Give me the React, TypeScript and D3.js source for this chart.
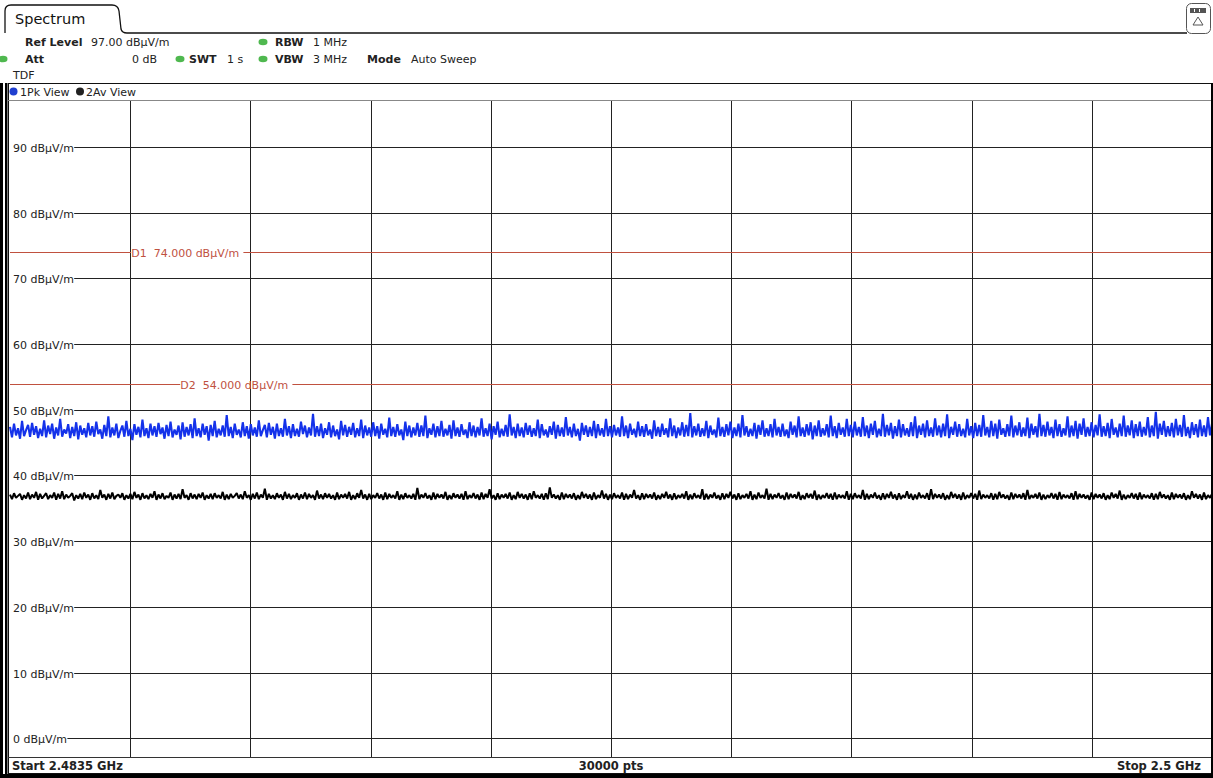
import React from 'react'
import * as d3 from 'd3'

// sweep settings
const startGHz = 2.4835
const stopGHz = 2.5
const refLevel = 97
const bottomLevel = -3
const sweepPoints = '30000 pts'
const divisions = 10
const levelTicks = [0, 10, 20, 30, 40, 50, 60, 70, 80, 90]
const limitNames = ['D1', 'D2']
const limitValues = [74, 54]

// peak detector trace (1Pk), dBµV/m, read across the sweep
const pkTrace = [
  47.4, 45.8, 47.9, 46.1, 47.2, 45.6, 48.3, 46.0, 46.9, 47.7, 45.9, 48.0, 46.2, 47.5, 45.7, 47.1, 46.0, 48.4, 45.8, 47.6,
  46.3, 47.9, 45.6, 47.3, 46.1, 48.6, 45.9, 47.0, 46.4, 47.8, 45.7, 47.4, 46.0, 48.1, 45.5, 47.6, 46.2, 47.2, 45.8, 48.0,
  46.1, 47.5, 45.9, 48.2, 46.3, 47.0, 45.6, 47.7, 46.0, 49.0, 45.8, 47.3, 46.1, 47.9, 45.7, 46.8, 47.6, 45.9, 48.3, 46.0,
  47.1, 45.4, 47.8, 46.2, 47.4, 45.8, 48.5, 46.0, 47.2, 45.7, 47.9, 46.1, 47.5, 45.9, 48.0, 46.3, 47.3, 45.6, 47.7, 46.0,
  48.2, 45.8, 47.0, 46.2, 47.6, 45.5, 48.1, 45.9, 47.4, 46.1, 47.8, 45.7, 48.7, 46.0, 47.2, 45.8, 47.9, 46.2, 47.5, 45.3,
  47.7, 46.0, 48.3, 45.8, 47.1, 46.1, 47.6, 45.9, 49.2, 46.0, 47.4, 45.7, 47.9, 46.2, 47.0, 45.8, 48.1, 46.0, 47.5, 45.6,
  47.8, 46.1, 47.3, 45.9, 48.4, 46.0, 46.9, 47.7, 45.8, 48.0, 46.2, 47.4, 45.6, 47.9, 46.0, 47.2, 45.9, 48.6, 46.1, 47.5,
  45.7, 47.8, 46.0, 47.1, 45.9, 48.2, 46.3, 47.6, 45.8, 47.3, 46.1, 49.4, 45.9, 47.5, 46.0, 47.9, 45.7, 47.2, 46.2, 48.1,
  45.8, 47.6, 46.0, 47.0, 45.5, 48.3, 46.1, 47.7, 45.9, 47.4, 46.2, 48.0, 45.8, 47.2, 46.0, 48.5, 45.7, 47.6, 46.1, 47.3,
  45.9, 48.1, 46.0, 47.5, 45.6, 47.9, 46.2, 47.1, 45.8, 48.8, 46.0, 47.4, 45.9, 47.8, 46.1, 47.0, 45.4, 48.2, 46.0, 47.6,
  45.8, 47.3, 46.1, 48.0, 45.9, 47.6, 46.0, 49.1, 45.7, 47.2, 46.2, 47.9, 45.8, 47.5, 46.0, 48.3, 45.9, 47.1, 46.1, 47.7,
  45.6, 48.4, 46.0, 47.3, 45.9, 47.8, 46.2, 47.0, 45.7, 48.1, 46.0, 47.6, 45.8, 47.4, 46.1, 48.7, 45.9, 47.2, 46.0, 47.9,
  45.5, 47.5, 46.2, 48.2, 45.8, 47.1, 46.0, 47.7, 45.9, 49.3, 46.1, 47.4, 45.7, 47.9, 46.0, 47.3, 45.8, 48.0, 46.2, 47.6,
  45.9, 47.2, 46.0, 48.5, 45.7, 47.8, 46.1, 47.0, 45.8, 47.5, 46.2, 48.2, 45.6, 47.7, 46.0, 47.3, 45.9, 48.9, 46.1, 47.4,
  45.8, 47.9, 46.0, 47.1, 45.3, 48.0, 46.2, 47.6, 45.9, 47.4, 46.0, 48.3, 45.7, 47.8, 46.1, 47.2, 45.9, 48.6, 46.0, 47.5,
  45.8, 47.7, 46.1, 47.3, 45.9, 49.0, 46.0, 47.6, 45.7, 47.9, 46.2, 47.1, 45.8, 48.2, 46.0, 47.5, 45.9, 47.8, 46.1, 47.0,
  45.6, 48.4, 46.0, 47.4, 45.9, 47.9, 46.2, 47.2, 45.8, 48.7, 46.0, 47.6, 45.7, 47.3, 46.1, 48.1, 45.9, 47.7, 46.0, 49.5,
  45.8, 47.5, 46.1, 47.9, 45.9, 47.2, 46.0, 48.3, 45.7, 47.6, 46.2, 47.0, 45.8, 48.8, 46.0, 47.4, 45.9, 47.8, 46.1, 48.2,
  45.7, 47.3, 46.0, 47.9, 45.8, 49.2, 46.1, 47.5, 45.9, 47.1, 46.0, 48.0, 45.6, 47.7, 46.2, 48.4, 45.9, 47.2, 46.0, 47.8,
  45.8, 48.6, 46.1, 47.4, 45.9, 47.9, 46.0, 47.0, 45.7, 48.2, 46.2, 47.6, 45.8, 49.0, 46.0, 47.3, 45.9, 47.8, 46.1, 48.1,
  45.5, 47.6, 46.0, 48.4, 45.9, 47.2, 46.1, 47.8, 45.8, 49.1, 46.0, 47.5, 45.7, 48.0, 46.2, 47.3, 45.9, 48.6, 46.0, 47.7,
  45.8, 48.2, 46.1, 47.4, 45.9, 48.9, 46.0, 47.6, 45.7, 47.9, 46.2, 48.3, 45.8, 47.1, 46.0, 49.4, 45.9, 47.7, 46.1, 48.0,
  45.6, 47.5, 46.0, 48.5, 45.8, 47.8, 46.1, 47.2, 45.9, 48.1, 46.0, 49.0, 45.7, 47.6, 46.2, 47.9, 45.8, 48.4, 46.0, 47.3,
  45.9, 48.7, 46.1, 47.6, 45.8, 47.9, 46.0, 49.3, 45.7, 47.4, 46.2, 48.2, 45.9, 47.8, 46.0, 47.1, 45.8, 48.6, 46.1, 47.5,
  45.7, 48.0, 46.0, 47.7, 45.9, 49.2, 46.1, 47.4, 45.8, 48.3, 46.0, 47.9, 45.6, 48.5, 46.2, 47.2, 45.9, 47.8, 46.0, 49.1,
  45.8, 47.6, 46.1, 48.1, 45.9, 47.3, 46.0, 48.8, 45.7, 47.9, 46.2, 47.5, 45.8, 49.4, 46.0, 47.7, 45.9, 48.2, 46.1, 47.4,
  45.7, 48.5, 46.0, 47.8, 45.9, 47.2, 46.1, 49.0, 45.8, 47.6, 46.0, 48.3, 45.6, 47.9, 46.2, 48.7, 45.9, 47.4, 46.0, 48.1,
  45.8, 47.7, 46.1, 49.3, 45.9, 47.5, 46.0, 48.0, 45.7, 48.6, 46.2, 47.3, 45.8, 47.9, 46.0, 49.1, 45.9, 47.6, 46.1, 48.4,
  45.7, 47.8, 46.0, 48.2, 45.9, 47.4, 46.1, 48.9, 45.8, 47.6, 46.0, 49.7, 45.6, 47.9, 46.2, 48.3, 45.9, 47.5, 46.0, 48.0,
  45.8, 48.6, 46.1, 47.7, 45.9, 49.2, 46.0, 47.4, 45.7, 48.1, 46.2, 47.8, 45.8, 48.5, 46.0, 47.6, 45.9, 48.9, 46.1, 47.9,
]

// average detector trace (2Av), dBµV/m
const avTrace = [
  37.1, 36.4, 37.3, 36.6, 36.9, 37.2, 36.3, 37.0, 36.5, 37.4, 36.4, 37.1, 36.6, 37.5, 36.3, 37.2, 36.5, 36.9, 37.3, 36.4,
  37.0, 36.6, 37.4, 36.3, 37.2, 36.5, 37.6, 36.4, 37.1, 36.6, 36.9, 37.3, 36.2, 37.0, 36.5, 37.2, 36.4, 37.4, 36.6, 37.1,
  36.3, 37.3, 36.5, 37.0, 36.4, 37.8, 36.6, 37.1, 36.3, 37.2, 36.5, 37.4, 36.4, 36.9, 37.1, 36.6, 37.3, 36.3, 37.0, 36.5,
  37.2, 36.4, 37.5, 36.6, 37.1, 36.3, 37.3, 36.5, 37.0, 36.4, 37.2, 36.6, 37.6, 36.3, 37.1, 36.5, 37.3, 36.4, 36.9, 36.6,
  37.4, 36.3, 37.1, 36.5, 37.2, 36.4, 37.9, 36.6, 37.0, 36.3, 37.3, 36.5, 37.1, 36.4, 37.2, 36.6, 37.4, 36.3, 37.0, 36.5,
  37.2, 36.4, 37.3, 36.6, 37.0, 36.5, 37.5, 36.3, 37.1, 36.4, 37.2, 36.6, 36.9, 37.3, 36.5, 37.1, 36.4, 37.6, 36.6, 37.0,
  36.3, 37.2, 36.5, 37.4, 36.4, 37.1, 36.6, 38.0, 36.3, 37.2, 36.5, 37.0, 36.4, 37.3, 36.6, 37.1, 36.3, 37.5, 36.5, 37.2,
  36.4, 37.0, 36.6, 37.3, 36.3, 37.1, 36.5, 37.4, 36.4, 37.2, 36.6, 37.0, 36.3, 37.7, 36.5, 37.1, 36.4, 37.3, 36.6, 37.2,
  36.5, 37.0, 36.3, 37.4, 36.4, 37.1, 36.6, 37.2, 36.5, 37.5, 36.3, 37.0, 36.4, 37.3, 36.6, 37.8, 36.5, 37.1, 36.3, 37.2,
  36.4, 37.0, 36.6, 37.3, 36.5, 37.1, 36.3, 37.4, 36.4, 37.2, 36.6, 37.0, 36.5, 37.6, 36.3, 37.1, 36.4, 37.3, 36.6, 37.0,
  36.5, 37.2, 36.3, 38.1, 36.4, 37.1, 36.6, 37.3, 36.5, 37.0, 36.3, 37.4, 36.4, 37.2, 36.6, 37.1, 36.5, 37.5, 36.3, 37.0,
  36.4, 37.3, 36.6, 37.1, 36.5, 37.2, 36.3, 37.6, 36.4, 37.0, 36.6, 37.3, 36.5, 37.1, 36.3, 37.4, 36.4, 37.2, 36.6, 37.9,
  36.5, 37.0, 36.3, 37.3, 36.4, 37.1, 36.6, 37.2, 36.5, 37.4, 36.3, 37.0, 36.4, 37.5, 36.6, 37.2, 36.5, 37.1, 36.3, 37.3,
  36.4, 37.6, 36.6, 37.0, 36.5, 37.2, 36.3, 37.3, 36.4, 38.2, 36.6, 37.1, 36.5, 37.0, 36.3, 37.4, 36.4, 37.2, 36.6, 37.1,
  36.5, 37.3, 36.3, 37.0, 36.4, 37.5, 36.6, 37.2, 36.5, 37.1, 36.3, 37.4, 36.4, 37.0, 36.6, 37.7, 36.5, 37.2, 36.3, 37.1,
  36.4, 37.3, 36.6, 37.0, 36.5, 37.4, 36.3, 37.2, 36.4, 37.1, 36.6, 37.8, 36.5, 37.0, 36.3, 37.3, 36.4, 37.2, 36.6, 37.1,
  36.5, 37.4, 36.3, 37.0, 36.4, 37.2, 36.6, 37.5, 36.5, 37.1, 36.3, 37.3, 36.4, 37.0, 36.6, 37.2, 36.5, 37.6, 36.3, 37.1,
  36.4, 37.3, 36.6, 37.0, 36.5, 37.9, 36.3, 37.2, 36.4, 37.1, 36.6, 37.4, 36.5, 37.0, 36.3, 37.3, 36.4, 37.2, 36.6, 37.5,
  36.5, 37.1, 36.3, 37.3, 36.4, 37.0, 36.6, 37.2, 36.5, 37.6, 36.3, 37.1, 36.4, 37.4, 36.6, 37.0, 36.5, 38.0, 36.3, 37.2,
  36.4, 37.1, 36.6, 37.3, 36.5, 37.0, 36.3, 37.4, 36.4, 37.2, 36.6, 37.1, 36.5, 37.5, 36.3, 37.0, 36.4, 37.3, 36.6, 37.2,
  36.5, 37.7, 36.3, 37.1, 36.4, 37.0, 36.6, 37.3, 36.5, 37.2, 36.3, 37.4, 36.4, 37.1, 36.6, 37.0, 36.5, 37.6, 36.3, 37.2,
  36.4, 37.3, 36.6, 37.0, 36.5, 37.8, 36.3, 37.2, 36.4, 37.1, 36.6, 37.4, 36.5, 37.0, 36.3, 37.3, 36.4, 37.2, 36.6, 37.5,
  36.5, 37.1, 36.3, 37.3, 36.4, 37.0, 36.6, 37.6, 36.5, 37.2, 36.3, 37.1, 36.4, 37.4, 36.6, 37.0, 36.5, 37.3, 36.3, 37.9,
  36.4, 37.2, 36.6, 37.1, 36.5, 37.3, 36.3, 37.0, 36.4, 37.5, 36.6, 37.2, 36.5, 37.1, 36.3, 37.4, 36.4, 37.0, 36.6, 37.3,
  36.5, 37.2, 36.3, 37.7, 36.4, 37.1, 36.6, 37.0, 36.5, 37.3, 36.3, 37.2, 36.4, 37.5, 36.6, 37.1, 36.5, 37.0, 36.3, 37.4,
  36.4, 37.2, 36.6, 37.1, 36.5, 37.3, 36.3, 37.8, 36.4, 37.0, 36.6, 37.2, 36.5, 37.4, 36.3, 37.1, 36.4, 37.0, 36.6, 37.3,
  36.5, 37.2, 36.3, 37.5, 36.4, 37.1, 36.6, 37.0, 36.5, 37.3, 36.3, 37.6, 36.4, 37.2, 36.6, 37.1, 36.5, 37.0, 36.3, 37.4,
  36.4, 37.2, 36.6, 37.1, 36.5, 37.3, 36.3, 37.0, 36.4, 37.4, 36.6, 37.2, 36.5, 37.7, 36.3, 37.1, 36.4, 37.0, 36.6, 37.3,
  36.5, 37.2, 36.3, 37.4, 36.4, 37.1, 36.6, 37.0, 36.5, 37.3, 36.3, 37.2, 36.4, 37.5, 36.6, 37.1, 36.5, 37.0, 36.3, 37.4,
  36.4, 37.2, 36.6, 37.1, 36.5, 37.3, 36.3, 37.0, 36.4, 37.6, 36.6, 37.2, 36.5, 37.1, 36.3, 37.4, 36.4, 37.0, 36.6, 37.2,
]

const W = 1213
const H = 778
const plot = { left: 10, right: 1212, top: 100, bottom: 758 }
const FONT = '"DejaVu Sans", Verdana, sans-serif'
const GRID = '#222'
const LIMIT = '#c0513f'
const PK = '#1432ea'
const GREEN = '#4fb84f'

const Dot = ({ x, y, fill }: { x: number; y: number; fill: string }) => (
  <ellipse cx={x} cy={y} rx={4.5} ry={3.2} fill={fill} />
)

const App = () => {
  const x = d3.scaleLinear().domain([startGHz, stopGHz]).range([plot.left, plot.right])
  const y = d3.scaleLinear().domain([bottomLevel, refLevel]).range([plot.bottom, plot.top + 1])

  const traceLine = (vals: number[]) => {
    const f = d3.scaleLinear().domain([0, vals.length - 1]).range([startGHz, stopGHz])
    return d3
      .line<number>()
      .x((_, i) => x(f(i)))
      .y((d) => y(d))(vals) as string
  }

  // analyzer grid: 10 equal divisions of the span
  const step = (stopGHz - startGHz) / divisions
  const vTicks = d3.range(1, divisions).map((i) => startGHz + i * step)
  const limitLabelX = [x(vTicks[0]) + 1, x(vTicks[0]) + 50]

  return (
    <svg
      width={W}
      height={H}
      style={{ position: 'fixed', left: 0, top: 0, background: '#fff' }}
      fontFamily={FONT}
    >
      {/* tab header */}
      <path
        d="M5,33 L5,11 Q5,5 11,5 L112,5 Q118,5 119,11 L121,29 Q122,33 127,33 L1187,33"
        fill="none"
        stroke="#111"
        strokeWidth={1.3}
      />
      <text x={15} y={23.5} fontSize={14.5} fill="#111">Spectrum</text>

      <g>
        <rect x={1186.5} y={3.5} width={24} height={30} rx={5} fill="#fff" stroke="#555" />
        <rect x={1190} y={8} width={16} height={5} fill="#555" />
        <rect x={1194} y={9} width={1} height={3} fill="#fff" />
        <rect x={1199} y={9} width={1} height={3} fill="#fff" />
        <path d="M1198,17 L1203,25 L1193,25 Z" fill="none" stroke="#555" />
      </g>

      {/* settings */}
      <g fontSize={11} fill="#222">
        <text x={25} y={46} fontWeight="bold">Ref Level</text>
        <text x={91} y={46}>97.00 dBµV/m</text>
        <Dot x={263} y={42} fill={GREEN} />
        <text x={275} y={46} fontWeight="bold">RBW</text>
        <text x={313} y={46}>1 MHz</text>

        <Dot x={3} y={59} fill={GREEN} />
        <text x={25} y={63} fontWeight="bold">Att</text>
        <text x={157} y={63} textAnchor="end">0 dB</text>
        <Dot x={180} y={59} fill={GREEN} />
        <text x={189} y={63} fontWeight="bold">SWT</text>
        <text x={227} y={63}>1 s</text>
        <Dot x={263} y={59} fill={GREEN} />
        <text x={275} y={63} fontWeight="bold">VBW</text>
        <text x={313} y={63}>3 MHz</text>
        <text x={367} y={63} fontWeight="bold">Mode</text>
        <text x={411} y={63}>Auto Sweep</text>

        <text x={13} y={79}>TDF</text>
      </g>

      {/* panel frame */}
      <rect x={8.5} y={83.5} width={1203} height={690} fill="#fff" stroke="#111" />
      <line x1={8} x2={1211} y1={100.5} y2={100.5} stroke="#888" />
      <line x1={8} x2={1211} y1={757.5} y2={757.5} stroke="#333" />

      {/* legend */}
      <g fontSize={11} fill="#222">
        <circle cx={13.5} cy={91.5} r={4} fill="#1f3fd0" />
        <text x={20} y={95.5}>1Pk View</text>
        <circle cx={80} cy={91.5} r={4} fill="#222" />
        <text x={86} y={95.5}>2Av View</text>
      </g>

      {/* grid */}
      {vTicks.map((t) => (
        <line
          key={t}
          x1={Math.round(x(t)) + 0.5}
          x2={Math.round(x(t)) + 0.5}
          y1={plot.top + 1}
          y2={plot.bottom - 1}
          stroke={GRID}
        />
      ))}
      {levelTicks.map((t) => {
        const label = `${t} dBµV/m`
        const yy = Math.round(y(t)) + 0.5
        return (
          <g key={t}>
            <line x1={13 + label.length * 6.8} x2={plot.right} y1={yy} y2={yy} stroke={GRID} />
            <text x={13} y={yy + 4} fontSize={11} fill="#222">{label}</text>
          </g>
        )
      })}

      {/* limit lines */}
      {limitValues.map((v, i) => {
        const yy = Math.round(y(v)) + 0.5
        const label = `${limitNames[i]}  ${v.toFixed(3)} dBµV/m`
        const lx = limitLabelX[i]
        const tw = label.length * 6.6
        return (
          <g key={v}>
            <line x1={plot.left} x2={lx} y1={yy} y2={yy} stroke={LIMIT} />
            <line x1={lx + tw} x2={plot.right} y1={yy} y2={yy} stroke={LIMIT} />
            <text x={lx} y={yy + 4} fontSize={11} fill={LIMIT} style={{ whiteSpace: 'pre' }}>{label}</text>
          </g>
        )
      })}

      {/* traces */}
      <path d={traceLine(avTrace)} fill="none" stroke="#000" strokeWidth={2} strokeLinejoin="bevel" />
      <path d={traceLine(pkTrace)} fill="none" stroke={PK} strokeWidth={2.1} strokeLinejoin="bevel" />

      {/* footer */}
      <g fontSize={11.5} fontWeight="bold" fill="#222">
        <text x={12} y={770}>Start {startGHz} GHz</text>
        <text x={(plot.left + plot.right) / 2} y={770} textAnchor="middle">{sweepPoints}</text>
        <text x={1201} y={770} textAnchor="end">Stop {stopGHz} GHz</text>
      </g>

      {/* heavy outer border */}
      <rect x={0} y={83} width={3} height={695} fill="#000" />
      <rect x={5} y={83} width={2.5} height={695} fill="#000" />
      <rect x={0} y={774} width={W} height={4} fill="#000" />
      <rect x={1211} y={83} width={2} height={695} fill="#000" />
    </svg>
  )
}

export default App
